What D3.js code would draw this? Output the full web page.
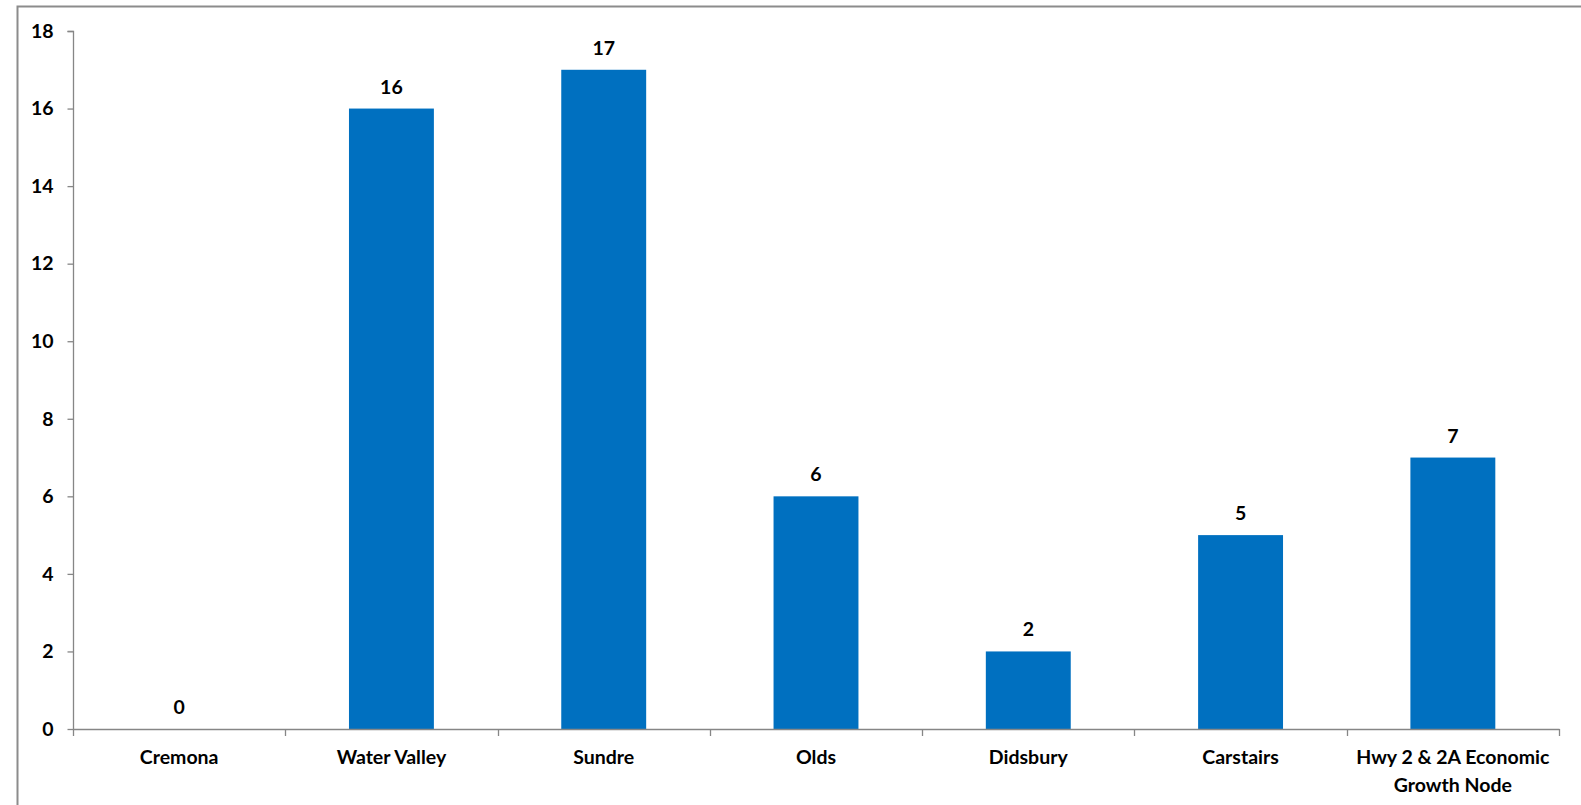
<!DOCTYPE html>
<html><head><meta charset="utf-8">
<script src="https://cdn.jsdelivr.net/npm/d3@7"></script>
<style>
html,body{margin:0;padding:0;background:#fff;}
svg{display:block;}
text{font-family:Lato,"Open Sans",sans-serif;font-weight:bold;fill:#000;}
</style></head>
<body>
<svg id="chart" width="1581" height="805"></svg>
<script>
const categories = ["Cremona","Water Valley","Sundre","Olds","Didsbury","Carstairs","Hwy 2 & 2A Economic|Growth Node"];
const values = [0,16,17,6,2,5,7];
const yTicks = [0,2,4,6,8,10,12,14,16,18];

const svg = d3.select("#chart");
const mLeft = 73, mRight = 1559, mTop = 31, mBottom = 729;

// outer border (left + top)
svg.append("path").attr("d","M17.5,805 L17.5,6.5 L1581,6.5")
  .attr("fill","none").attr("stroke","#8c8c8c").attr("stroke-width",2);

const x = d3.scaleBand().domain(categories).range([mLeft,mRight]).paddingInner(0.6).paddingOuter(0.3);
const xb = d3.scaleBand().domain(categories).range([mLeft,mRight]);
const y = d3.scaleLinear().domain([0,18]).range([mBottom,mTop]);

// bars
svg.selectAll("rect.bar").data(values).enter().append("rect")
  .attr("class","bar")
  .attr("x",(d,i)=>x(categories[i]))
  .attr("width",x.bandwidth())
  .attr("y",d=>y(d))
  .attr("height",d=>y(0)-y(d))
  .attr("fill","#0070c0");

// y axis
const yAxis = d3.axisLeft(y).tickValues(yTicks).tickSize(6).tickPadding(14).tickFormat(d3.format("d"));
const gy = svg.append("g").attr("transform",`translate(${mLeft+0.5},0)`).call(yAxis);
gy.select(".domain").attr("stroke","#868686").attr("stroke-width",1.3).attr("d",`M-6,${mTop+0.5}H0V${mBottom}`);
gy.selectAll(".tick line").attr("stroke","#868686").attr("stroke-width",1.3);
gy.selectAll(".tick text").attr("font-size",19.5).attr("font-family","Lato").attr("font-weight","bold").attr("fill","#000");

// x axis line and ticks at band boundaries
const gx = svg.append("g");
gx.append("line").attr("x1",mLeft).attr("x2",mRight+0.5).attr("y1",mBottom+0.5).attr("y2",mBottom+0.5)
  .attr("stroke","#868686").attr("stroke-width",1.5);
const bounds = categories.map(c=>xb(c)).concat([mRight]);
gx.selectAll("line.t").data(bounds).enter().append("line").attr("class","t")
  .attr("x1",d=>Math.round(d)+0.5).attr("x2",d=>Math.round(d)+0.5)
  .attr("y1",mBottom).attr("y2",mBottom+7)
  .attr("stroke","#868686").attr("stroke-width",1.3);

// category labels
categories.forEach((c,i)=>{
  const lines = c.split("|");
  const t = svg.append("text").attr("text-anchor","middle").attr("font-size",19.5)
    .attr("x",xb(c)+xb.bandwidth()/2).attr("y",764);
  lines.forEach((l,j)=>t.append("tspan").attr("x",xb(c)+xb.bandwidth()/2).attr("dy",j===0?0:28).text(l));
});

// value labels
svg.selectAll("text.val").data(values).enter().append("text")
  .attr("class","val").attr("text-anchor","middle").attr("font-size",19.5)
  .attr("x",(d,i)=>x(categories[i])+x.bandwidth()/2)
  .attr("y",d=>y(d)-15)
  .text(d=>d);
</script>
</body></html>
